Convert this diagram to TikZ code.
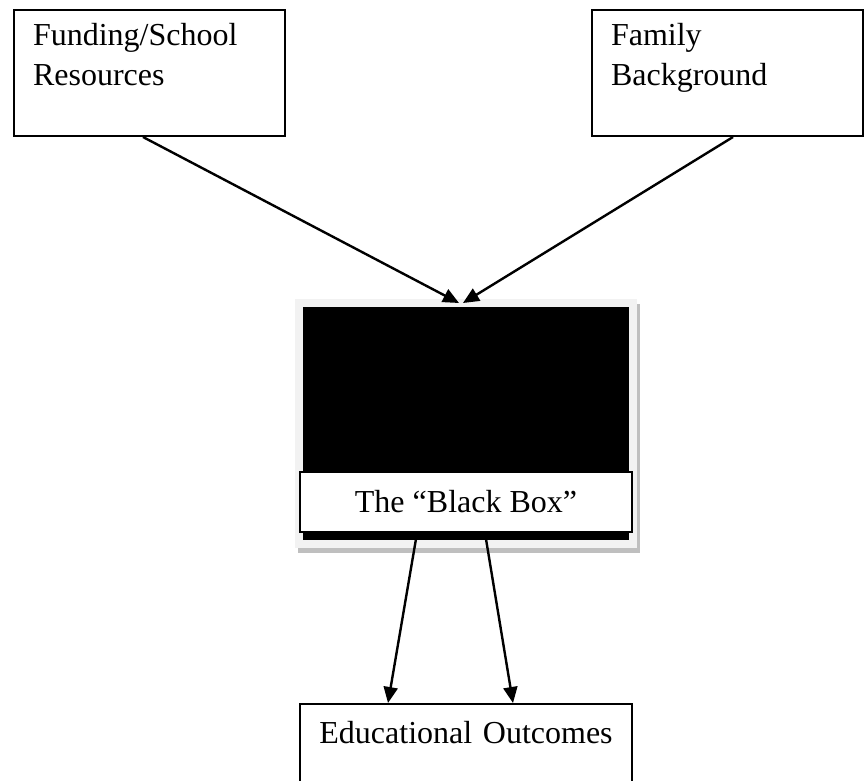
\documentclass[tikz,border=0pt]{standalone}
\usepackage{fontspec}
\setmainfont{Liberation Serif}
\usetikzlibrary{arrows.meta,positioning}
\definecolor{framegrey}{RGB}{242,242,242}
\definecolor{shadegrey}{RGB}{191,191,191}

\begin{document}
\begin{tikzpicture}[every node/.style={font=\fontsize{16}{20}\selectfont},
  srcbox/.style={draw,line width=1pt,fill=white,inner xsep=9.5pt,inner ysep=0pt,
               text width=116.5pt,align=left,text height=18pt,text depth=45pt},
  blackbox/.style={fill=black,draw=framegrey,line width=4pt,inner sep=0pt,outer sep=0pt,
               minimum width=167pt,minimum height=120.5pt,
               preaction={draw=shadegrey,fill=shadegrey,line width=4pt,
                          transform canvas={shift={(1.5pt,-2.5pt)}}}},
  capbox/.style={draw,line width=1.2pt,fill=white,inner sep=0pt,
               minimum width=165.8pt,minimum height=29.8pt},
  outbox/.style={draw,line width=1pt,fill=white,inner xsep=5pt,inner ysep=0pt,
               text width=156pt,align=center,text height=19.5pt,text depth=44pt},
  ar/.style={-{Triangle[length=8pt,width=7pt]},line width=1.2pt}]
\useasboundingbox (0,0) rectangle (432.5pt,-390pt);

\node[srcbox,anchor=north west] (fund) at (6.5pt,-4.5pt) {Funding/School\\Resources};
\node[srcbox,right=152.5pt of fund] (fam) {Family\\Background};

\node[blackbox] (bb) at (233pt,-211.75pt) {};
\node[capbox,above=5.5pt of bb.south] (cap) {The “Black Box”};
\node[outbox,below=85pt of cap] (out) {Educational Outcomes};

\foreach \a/\sa/\sb in {fund/-3.25/-3.5,fam/2.75/-1.5}
  \draw[ar] ([xshift=\sa pt]\a.south) -- ([xshift=\sb pt]bb.north);
\foreach \sa/\sb in {-24.5/-39,9.5/23.5}
  \draw[ar] ([xshift=\sa pt]cap.south) -- ([xshift=\sb pt]out.north);
\end{tikzpicture}
\end{document}
